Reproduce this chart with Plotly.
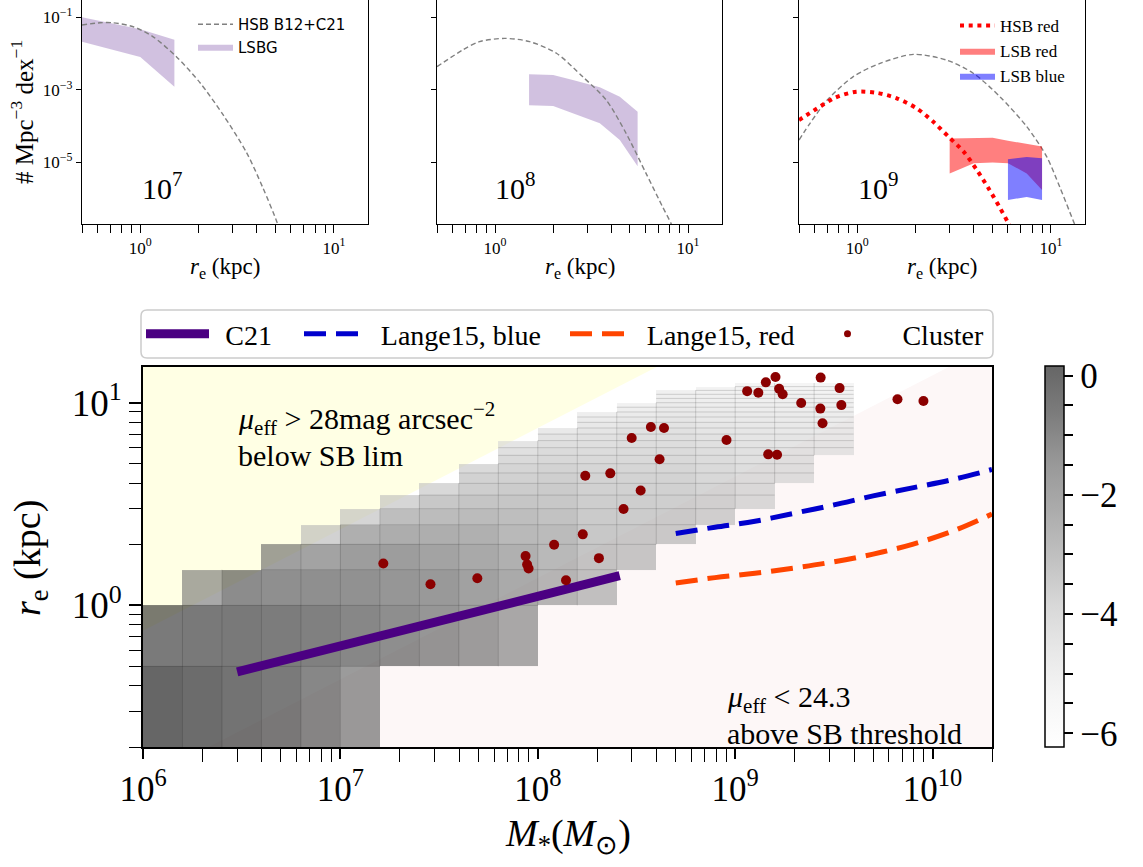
import numpy as np
import plotly.graph_objects as go

W, H = 1143, 867
SERIF = "Liberation Serif"
SANS = "DejaVu Sans"

# ---------------------------------------------------------------------------
# Main panel: binned log10 number density of LSBGs in (M*, r_e)
# columns: 0.2 dex bins in log M*, rows: 0.5 kpc bins in r_e
# ---------------------------------------------------------------------------
logm_edges = np.round(np.arange(6.0, 9.61, 0.2), 2)
re_edges = np.arange(0.0, 12.51, 0.5)
first_row = [0, 0, 0, 0, 0, 0, 1, 1, 1, 1, 2, 2, 3, 4, 5, 6, 8, 11]
density_cols = [
    [0.16, -0.57],
    [-0.05, -0.5, -2.15],
    [-0.3, -0.5, -1.1],
    [-0.57, -0.64, -1.2, -1.8],
    [-0.95, -0.75, -1.2, -1.9, -3.65],
    [-1.6, -0.95, -1.25, -1.65, -2.4, -3.75],
    [-1.15, -1.4, -1.65, -2.3, -2.95, -3.8],
    [-1.4, -1.5, -1.9, -2.35, -2.9, -3.3, -3.85],
    [-1.7, -1.85, -2.15, -2.45, -2.85, -3.2, -3.5, -3.65, -3.95],
    [-2.2, -2.2, -2.45, -2.75, -2.95, -3.25, -3.45, -3.6, -3.75, -3.95, -4.25, -4.5],
    [-2.7, -2.75, -2.85, -3.1, -3.3, -3.4, -3.55, -3.7, -3.85, -4.0, -4.2, -4.4, -4.65],
    [-3.1, -3.2, -3.3, -3.4, -3.5, -3.6, -3.7, -3.8, -3.9, -4.05, -4.2, -4.3, -4.45,
     -4.6, -4.8, -4.95],
    [-3.3, -3.35, -3.45, -3.5, -3.6, -3.7, -3.8, -3.9, -4.0, -4.1, -4.2, -4.3, -4.45,
     -4.6, -4.8, -4.95, -5.15],
    [-3.4, -3.45, -3.55, -3.6, -3.7, -3.8, -3.9, -4.0, -4.1, -4.2, -4.3, -4.4, -4.5,
     -4.6, -4.7, -4.8, -4.9, -5.0, -5.1],
    [-3.6, -3.65, -3.75, -3.85, -3.95, -4.05, -4.15, -4.25, -4.35, -4.45, -4.55, -4.65,
     -4.7, -4.8, -4.9, -4.95, -5.05, -5.1, -5.2],
    [-3.95, -4.0, -4.1, -4.15, -4.25, -4.3, -4.4, -4.45, -4.55, -4.6, -4.7, -4.75,
     -4.85, -4.9, -5.0, -5.05, -5.15, -5.2, -5.3],
    [-4.2, -4.25, -4.3, -4.4, -4.45, -4.5, -4.6, -4.65, -4.75, -4.8, -4.9, -4.95,
     -5.05, -5.1, -5.2, -5.3, -5.4],
    [-4.5, -4.55, -4.65, -4.7, -4.8, -4.85, -4.9, -5.0, -5.05, -5.1, -5.15, -5.25,
     -5.3, -5.35],
]
Z_MIN, Z_MAX = -6.23, 0.16

# surface-brightness limits (r_e at 10^6 Msun for the 28 mag/arcsec^2 limit)
MU_LIM, MU_THR = 28.0, 24.3
RE_LIM_1E6 = 0.75

# C21 size-mass relation
c21_mass = [3.0e6, 2.6e8]
c21_re = [0.47, 1.40]

# Lange+15 relations
lange_mass = [5.0e8, 7.9e8, 1.26e9, 2.0e9, 3.16e9, 5.0e9, 7.9e9, 1.26e10, 2.0e10]
lange_blue_re = [2.26, 2.43, 2.60, 2.85, 3.13, 3.47, 3.80, 4.17, 4.68]
lange_red_re = [1.29, 1.37, 1.44, 1.53, 1.64, 1.79, 2.00, 2.32, 2.82]

# cluster LSBGs
cluster_mass = [1.65e7, 2.86e7, 4.94e7, 8.67e7, 8.83e7, 8.98e7, 1.21e8, 1.39e8, 1.69e8,
                2.04e8, 1.74e8, 2.33e8, 2.72e8, 3.32e8, 2.99e8, 3.74e8, 4.36e8, 4.14e8,
                9.04e8, 1.15e9, 1.31e9, 1.43e9, 1.60e9, 1.67e9, 1.74e9, 1.47e9, 1.63e9,
                2.16e9, 2.71e9, 3.38e9, 2.70e9, 3.45e9, 2.77e9, 6.64e9, 8.99e9]
cluster_re = [1.61, 1.27, 1.36, 1.75, 1.59, 1.52, 1.99, 1.33, 2.24,
              1.71, 4.36, 4.48, 2.99, 3.69, 6.70, 7.59, 7.50, 5.26,
              6.55, 11.4, 11.2, 12.6, 13.4, 11.7, 11.0, 5.56, 5.54,
              9.97, 13.3, 11.8, 9.35, 9.73, 7.91, 10.4, 10.2]

# ---------------------------------------------------------------------------
# Top panels: size functions at fixed stellar mass
# ---------------------------------------------------------------------------
p7_hsb_re = [0.50, 0.62, 0.72, 0.92, 1.16, 1.54, 2.04, 2.68, 3.55, 4.30, 5.07, 5.4]
p7_hsb_logphi = [-1.21, -1.15, -1.15, -1.26, -1.53, -2.09, -2.81, -3.69, -4.74, -5.70, -6.63, -7.1]
p7_lsb_re = [0.5, 1.0, 1.5]
p7_lsb_hi = [-1.0, -1.33, -1.62]
p7_lsb_lo = [-1.67, -2.09, -2.91]

p8_hsb_re = [0.5, 0.68, 0.83, 1.12, 1.51, 2.08, 2.85, 3.77, 4.78, 6.06, 7.38, 8.15, 8.6]
p8_hsb_logphi = [-2.36, -1.90, -1.67, -1.58, -1.67, -1.99, -2.64, -3.28, -4.20, -5.30, -6.22, -6.67, -7.0]
p8_lsb_re = [1.5, 2.0, 2.53, 3.49, 4.43, 5.48]
p8_lsb_hi = [-2.57, -2.59, -2.73, -2.93, -3.19, -3.60]
p8_lsb_lo = [-3.42, -3.44, -3.64, -3.92, -4.38, -5.10]

p9_hsb_re = [0.5, 0.57, 0.70, 0.95, 1.31, 1.95, 2.90, 3.97, 5.46, 7.50, 9.51, 11.1, 13.1, 14.5]
p9_hsb_logphi = [-4.38, -3.92, -3.28, -2.64, -2.27, -2.02, -2.18, -2.54, -3.19, -4.01, -4.84, -5.67, -6.63, -7.2]
p9_hsbred_re = [0.5, 0.62, 0.77, 0.99, 1.26, 1.60, 2.03, 2.47, 2.96, 3.54, 4.15, 4.76, 5.42, 6.04, 6.5]
p9_hsbred_logphi = [-3.83, -3.51, -3.21, -3.05, -3.08, -3.23, -3.51, -3.88, -4.29, -4.70, -5.21, -5.71, -6.22, -6.68, -7.0]
p9_lsbred_re = [3.0, 4.0, 5.0, 6.0, 7.5, 9.0]
p9_lsbred_hi = [-4.34, -4.33, -4.32, -4.40, -4.48, -4.56]
p9_lsbred_lo = [-5.30, -5.02, -5.00, -5.02, -5.30, -5.76]
p9_lsbblue_re = [6.0, 7.5, 9.0]
p9_lsbblue_hi = [-4.91, -4.85, -4.88]
p9_lsbblue_lo = [-6.03, -5.95, -6.03]

panel_masses = ["10<sup>7</sup>", "10<sup>8</sup>", "10<sup>9</sup>"]

# ---------------------------------------------------------------------------
# axis ranges / geometry
# ---------------------------------------------------------------------------
MAIN_M_RANGE = (1e6, 2e10)
MAIN_RE_RANGE = (0.2, 15.0)
TOP_RE_RANGE = (0.5, 15.0)
TOP_LOGPHI_RANGE = (-6.694, -0.523)


def px_x(p):
    return p / W


def px_y(p):
    return 1 - p / H


fig = go.Figure()


def tenpow(a):
    return [10 ** v for v in a]


# ---------------- top panels ----------------
gray_dash = dict(color="rgb(128,128,128)", width=1.4, dash="5px,3px")
lsbg_fill = "rgba(102,51,153,0.3)"


def band(xs, hi, lo, color, name, axes, legend=None, show=False):
    xa, ya = axes
    fig.add_trace(go.Scatter(
        x=list(xs) + list(xs)[::-1], y=tenpow(hi) + tenpow(lo)[::-1],
        fill="toself", fillcolor=color, mode="lines", line=dict(width=0),
        name=name, showlegend=show, legend=legend, xaxis=xa, yaxis=ya,
        hoverinfo="skip"))


# panel 10^7
band(p7_lsb_re, p7_lsb_hi, p7_lsb_lo, lsbg_fill, "LSBG", ("x", "y"), "legend5", True)
fig.add_trace(go.Scatter(x=p7_hsb_re, y=tenpow(p7_hsb_logphi), mode="lines",
                         line=dict(**gray_dash, shape="spline", smoothing=0.8),
                         name="HSB B12+C21", legend="legend5", legendrank=1,
                         xaxis="x", yaxis="y"))
# panel 10^8
band(p8_lsb_re, p8_lsb_hi, p8_lsb_lo, lsbg_fill, "LSBG", ("x2", "y2"))
fig.add_trace(go.Scatter(x=p8_hsb_re, y=tenpow(p8_hsb_logphi), mode="lines",
                         line=dict(**gray_dash, shape="spline", smoothing=0.8),
                         showlegend=False, xaxis="x2", yaxis="y2"))
# panel 10^9
fig.add_trace(go.Scatter(x=p9_hsb_re, y=tenpow(p9_hsb_logphi), mode="lines",
                         line=dict(**gray_dash, shape="spline", smoothing=0.8),
                         showlegend=False, xaxis="x3", yaxis="y3"))
band(p9_lsbred_re, p9_lsbred_hi, p9_lsbred_lo, "rgba(255,0,0,0.5)", "LSB red",
     ("x3", "y3"), "legend6", True)
band(p9_lsbblue_re, p9_lsbblue_hi, p9_lsbblue_lo, "rgba(0,0,255,0.5)", "LSB blue",
     ("x3", "y3"), "legend6", True)
fig.add_trace(go.Scatter(x=p9_hsbred_re, y=tenpow(p9_hsbred_logphi), mode="lines",
                         line=dict(color="red", width=4, dash="4px,4.7px",
                                   shape="spline", smoothing=0.8),
                         name="HSB red", legend="legend6", legendrank=1,
                         xaxis="x3", yaxis="y3"))

# ---------------- main panel ----------------
n_rows = len(re_edges) - 1
n_cols = len(density_cols)
Z = [[None] * n_cols for _ in range(n_rows)]
for c, (start, vals) in enumerate(zip(first_row, density_cols)):
    for k, v in enumerate(vals):
        Z[start + k][c] = v

re_floor = MAIN_RE_RANGE[0] / 2  # lowest bin edge is 0, clipped below the axis floor
y_edges = np.maximum(re_edges, re_floor)
m_edges = 10 ** logm_edges

greys = [(0.0, 255), (0.125, 240), (0.25, 217), (0.375, 189), (0.5, 150),
         (0.625, 115), (0.75, 82), (0.875, 37), (1.0, 0)]
greys_alpha = [[f, f"rgba({g},{g},{g},0.6)"] for f, g in greys]

cb_ticks = np.arange(-6, 0.01, 0.5)
cb_text = [("\u2212" if t < 0 else "") + f"{abs(int(t))}" if t % 2 == 0 else "" for t in cb_ticks]

fig.add_trace(go.Heatmap(
    x=m_edges, y=y_edges, z=Z, zmin=Z_MIN, zmax=Z_MAX, colorscale=greys_alpha,
    xaxis="x4", yaxis="y4", hoverinfo="skip", showscale=True,
    colorbar=dict(x=px_x(1045), xanchor="left", y=px_y(747), yanchor="bottom",
                  len=381 / H, lenmode="fraction", thickness=19, thicknessmode="pixels",
                  outlinewidth=1.5, outlinecolor="black", ticks="outside", ticklen=9,
                  tickwidth=1.5, tickcolor="black", tickvals=cb_ticks, ticktext=cb_text,
                  tickfont=dict(family=SERIF, size=35, color="black"), xpad=0, ypad=0)))

# faint cell boundaries
seg_x, seg_y = [], []
for c, (start, vals) in enumerate(zip(first_row, density_cols)):
    for k in range(1, len(vals)):
        r = re_edges[start + k]
        seg_x += [m_edges[c], m_edges[c + 1], None]
        seg_y += [r, r, None]
for c in range(n_cols - 1):
    lo = max(first_row[c], first_row[c + 1])
    hi = min(first_row[c] + len(density_cols[c]), first_row[c + 1] + len(density_cols[c + 1]))
    if hi > lo:
        seg_x += [m_edges[c + 1], m_edges[c + 1], None]
        seg_y += [y_edges[lo], y_edges[hi], None]
fig.add_trace(go.Scatter(x=seg_x, y=seg_y, mode="lines",
                         line=dict(color="rgba(0,0,0,0.15)", width=1),
                         showlegend=False, hoverinfo="skip", xaxis="x4", yaxis="y4"))

TS = "\u2009"  # thin space between legend symbol and label
fig.add_trace(go.Scatter(x=c21_mass, y=c21_re, mode="lines",
                         line=dict(color="#4b0082", width=9), name=TS * 2 + "C21",
                         legend="legend", xaxis="x4", yaxis="y4"))
fig.add_trace(go.Scatter(x=lange_mass, y=lange_blue_re, mode="lines",
                         line=dict(color="mediumblue", width=5, dash="22px,10px",
                                   shape="spline"),
                         name=TS * 3 + "Lange15, blue", legend="legend2",
                         xaxis="x4", yaxis="y4"))
fig.add_trace(go.Scatter(x=lange_mass, y=lange_red_re, mode="lines",
                         line=dict(color="orangered", width=5, dash="22px,10px",
                                   shape="spline"),
                         name=TS * 3 + "Lange15, red", legend="legend3",
                         xaxis="x4", yaxis="y4"))
fig.add_trace(go.Scatter(x=cluster_mass, y=cluster_re, mode="markers",
                         marker=dict(color="darkred", size=10), showlegend=False,
                         xaxis="x4", yaxis="y4"))
fig.add_trace(go.Scatter(x=[None], y=[None], mode="markers",
                         marker=dict(color="darkred", size=7), name=TS * 4 + "Cluster",
                         legend="legend4", xaxis="x4", yaxis="y4"))


# surface-brightness regions (drawn under the histogram)
def re_sb(m, mu):
    return RE_LIM_1E6 * 10 ** ((mu - MU_LIM) / 5) * np.sqrt(m / 1e6)


m_lo, m_hi = 1e5, 1e11
m_top = 1e6 * (40.0 / RE_LIM_1E6) ** 2
yellow_path = (f"M {m_lo},{re_sb(m_lo, MU_LIM)} L {m_top},40 L {m_lo},40 Z")
pink_path = (f"M {m_lo},{re_sb(m_lo, MU_THR)} L {m_hi},{re_sb(m_hi, MU_THR)} "
             f"L {m_hi},0.01 L {m_lo},0.01 Z")
shapes = [
    dict(type="path", path=yellow_path, xref="x4", yref="y4", layer="below",
         fillcolor="rgb(255,255,228)", line=dict(width=0)),
    dict(type="path", path=pink_path, xref="x4", yref="y4", layer="below",
         fillcolor="rgb(253,247,247)", line=dict(width=0)),
]


# rounded legend frame
def rounded_box(x0, y0, x1, y1, r):
    rx, ry = r / W, r / H
    X0, X1 = px_x(x0), px_x(x1)
    Y0, Y1 = px_y(y1), px_y(y0)
    return (f"M {X0 + rx},{Y0} L {X1 - rx},{Y0} Q {X1},{Y0} {X1},{Y0 + ry} "
            f"L {X1},{Y1 - ry} Q {X1},{Y1} {X1 - rx},{Y1} L {X0 + rx},{Y1} "
            f"Q {X0},{Y1} {X0},{Y1 - ry} L {X0},{Y0 + ry} Q {X0},{Y0} {X0 + rx},{Y0} Z")


shapes.append(dict(type="path", path=rounded_box(141, 310, 993, 358, 6), xref="paper",
                   yref="paper", line=dict(color="rgb(204,204,204)", width=1.5),
                   fillcolor="rgba(255,255,255,0.8)", layer="above"))


# ---------------- axes ----------------
def minor_vals(d0, d1):
    return [m * 10 ** d for d in range(d0, d1) for m in range(2, 10)]


top_domains = [(82, 368), (437, 722), (799, 1085)]
ax_common = dict(showgrid=False, zeroline=False, showline=True, mirror=True,
                 linecolor="black", ticks="outside", tickcolor="black")
layout_axes = {}
for i, (a, b) in enumerate(top_domains):
    sfx = "" if i == 0 else str(i + 1)
    layout_axes["xaxis" + sfx] = dict(
        **ax_common, type="log", domain=[px_x(a), px_x(b)], anchor="y" + sfx,
        range=[np.log10(TOP_RE_RANGE[0]), np.log10(TOP_RE_RANGE[1])], linewidth=1.2,
        ticklen=8, tickwidth=1, tickvals=[1, 10],
        ticktext=["10<sup>0</sup>", "10<sup>1</sup>"],
        tickfont=dict(family=SERIF, size=17, color="black"),
        minor=dict(ticks="outside", ticklen=8, tickwidth=1, tickcolor="black",
                   tickvals=minor_vals(-1, 1)))
    layout_axes["yaxis" + sfx] = dict(
        **ax_common, type="log", domain=[px_y(224), px_y(0)], anchor="x" + sfx,
        range=list(TOP_LOGPHI_RANGE), linewidth=1.2, ticklen=5, tickwidth=1,
        tickvals=[1e-1, 1e-3, 1e-5],
        ticktext=["10<sup>\u22121</sup>", "10<sup>\u22123</sup>", "10<sup>\u22125</sup>"],
        showticklabels=(i == 0),
        tickfont=dict(family=SERIF, size=17, color="black"))

layout_axes["xaxis4"] = dict(
    **ax_common, type="log", domain=[px_x(143), px_x(992)], anchor="y4",
    range=[np.log10(MAIN_M_RANGE[0]), np.log10(MAIN_M_RANGE[1])], linewidth=2,
    ticklen=10, tickwidth=1.5, tickvals=[1e6, 1e7, 1e8, 1e9, 1e10],
    ticktext=[f"10<sup>{k}</sup>" for k in range(6, 11)],
    tickfont=dict(family=SERIF, size=35, color="black"),
    minor=dict(ticks="outside", ticklen=13, tickwidth=1.2, tickcolor="black",
               tickvals=minor_vals(6, 11)))
layout_axes["yaxis4"] = dict(
    **ax_common, type="log", domain=[px_y(747), px_y(367)], anchor="x4",
    range=[np.log10(MAIN_RE_RANGE[0]), np.log10(MAIN_RE_RANGE[1])], linewidth=2,
    ticklen=12, tickwidth=1.5, tickvals=[1, 10],
    ticktext=["10<sup>0</sup>", "10<sup>1</sup>"],
    tickfont=dict(family=SERIF, size=37, color="black"),
    minor=dict(ticks="outside", ticklen=12, tickwidth=1.2, tickcolor="black",
               tickvals=minor_vals(-1, 2)))


# ---------------- text ----------------
def label(text, x, y, size, xanchor="center", angle=0, family=SERIF):
    return dict(text=text, x=px_x(x), y=px_y(y), xref="paper", yref="paper",
                showarrow=False, xanchor=xanchor, yanchor="middle", textangle=angle,
                font=dict(family=family, size=size, color="black"))


annotations = []
for (a, b), lab, cx in zip(top_domains, panel_masses, [162, 515, 878]):
    annotations.append(label(lab, cx, 186, 30))
    annotations.append(label("<i>r</i><sub>e</sub> (kpc)", (a + b) / 2, 268, 23))
annotations += [
    label("# Mpc<sup>\u22123</sup> dex<sup>\u22121</sup>", 22, 112, 25, angle=-90),
    label("<i>\u03bc</i><sub>eff</sub> > 28mag arcsec<sup>\u22122</sup>", 236, 419, 30,
          xanchor="left"),
    label("below SB lim", 236, 455, 30, xanchor="left"),
    label("<i>\u03bc</i><sub>eff</sub> < 24.3", 725, 699, 30, xanchor="left"),
    label("above SB threshold", 725, 733, 30, xanchor="left"),
    label("<i>M</i><sub>*</sub>(<i>M</i><sub>\u2299</sub>)", 568, 836, 38),
    label("<i>r</i><sub>e</sub> (kpc)", 30, 558, 38, angle=-90),
]

leg_base = dict(bgcolor="rgba(0,0,0,0)", borderwidth=0, orientation="v",
                yanchor="middle", xanchor="left",
                font=dict(family=SERIF, size=28, color="black"))
fig.update_layout(
    width=W, height=H, margin=dict(l=0, r=0, t=0, b=0, autoexpand=False),
    paper_bgcolor="white", plot_bgcolor="white",
    font=dict(family=SERIF, color="black"),
    shapes=shapes, annotations=annotations,
    legend=dict(**leg_base, x=px_x(141), y=px_y(334), itemwidth=63),
    legend2=dict(**leg_base, x=px_x(299), y=px_y(334), itemwidth=55),
    legend3=dict(**leg_base, x=px_x(565), y=px_y(334), itemwidth=55),
    legend4=dict(**leg_base, x=px_x(815), y=px_y(334), itemwidth=55),
    legend5=dict(bgcolor="rgba(0,0,0,0)", x=px_x(193), y=px_y(8), xanchor="left",
                 yanchor="top", itemwidth=35, tracegroupgap=0,
                 font=dict(family=SANS, size=15, color="black")),
    legend6=dict(bgcolor="rgba(0,0,0,0)", x=px_x(955), y=px_y(8), xanchor="left",
                 yanchor="top", itemwidth=35, tracegroupgap=0,
                 font=dict(family=SERIF, size=17, color="black")),
    **layout_axes,
)

fig.write_html("out.html")
